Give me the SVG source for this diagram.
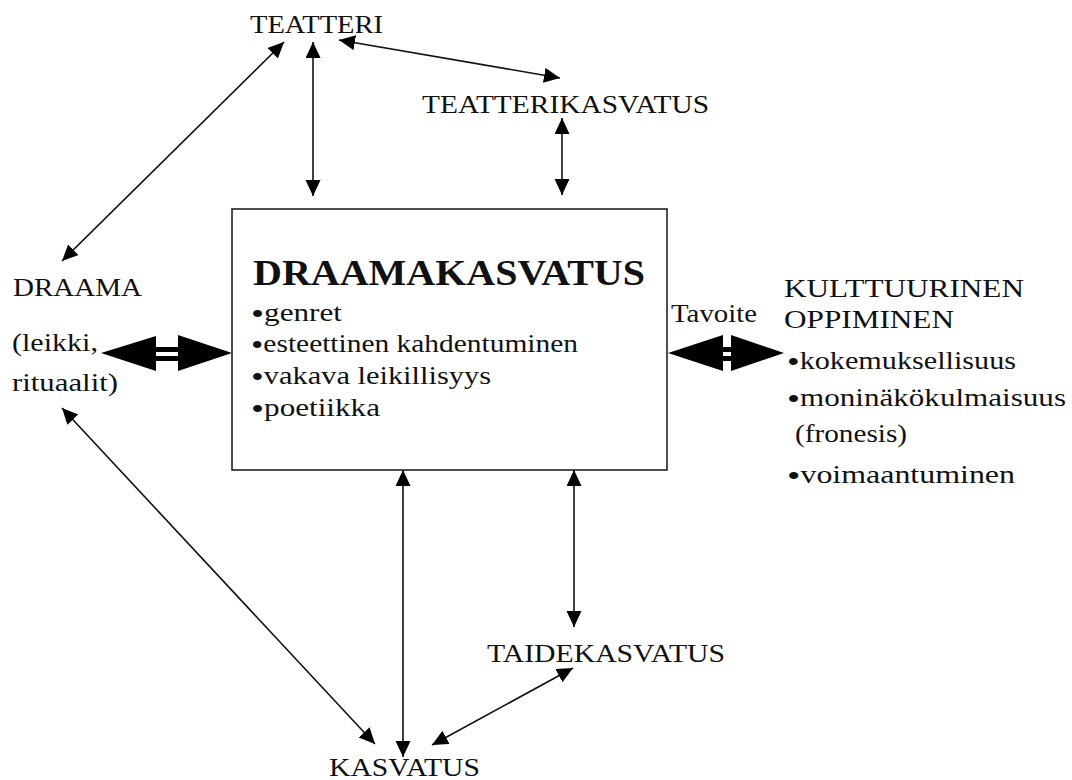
<svg xmlns="http://www.w3.org/2000/svg" width="1072" height="780" viewBox="0 0 1072 780">
<style>
text{font-family:"Liberation Serif","Times New Roman",serif;fill:#111;}
.t{font-size:26px;}
.b{font-size:25px;}
.h{font-size:35px;font-weight:bold;}
.bul{font-size:30px;}
.ln{stroke:#111;stroke-width:1.6;fill:none;marker-start:url(#ah);marker-end:url(#ah);}
.thick{fill:#000;}
</style>
<defs>
<marker id="ah" markerUnits="userSpaceOnUse" markerWidth="18" markerHeight="16" refX="16" refY="7.5" orient="auto-start-reverse">
<path d="M0,0 L16,7.5 L0,15 z" fill="#000"/>
</marker>
</defs>
<rect width="1072" height="780" fill="#fff"/>
<g id="connectors">
<line class="ln" x1="62" y1="261" x2="284" y2="42"/>
<line class="ln" x1="313" y1="42" x2="313" y2="196"/>
<line class="ln" x1="339" y1="40" x2="560" y2="78"/>
<line class="ln" x1="562" y1="118" x2="562" y2="195"/>
<line class="ln" x1="62" y1="408" x2="375" y2="744"/>
<line class="ln" x1="403" y1="470" x2="403" y2="757"/>
<line class="ln" x1="574" y1="470" x2="574" y2="627"/>
<line class="ln" x1="573" y1="668" x2="432" y2="745"/>
<g id="thick-left" class="thick">
<path d="M101,353 L156,336 L156,371 Z"/>
<path d="M232,353 L178,335 L178,371 Z"/>
<rect x="155" y="347" width="24" height="5"/>
<rect x="155" y="356" width="24" height="5"/>
</g>
<g id="thick-right" class="thick">
<path d="M668,353 L723,335 L723,371 Z"/>
<path d="M784,353 L731,335 L731,371 Z"/>
<rect x="722" y="347" width="10" height="5"/>
<rect x="722" y="356" width="10" height="5"/>
</g>
</g>
<g id="teatteri"><text class="t" x="250" y="33" textLength="133" lengthAdjust="spacingAndGlyphs">TEATTERI</text></g>
<g id="teatterikasvatus"><text class="t" x="422" y="113" textLength="287" lengthAdjust="spacingAndGlyphs">TEATTERIKASVATUS</text></g>
<g id="draamakasvatus">
<rect x="232" y="209" width="435" height="261" fill="none" stroke="#222" stroke-width="1.6"/>
<text class="h" x="253" y="285" textLength="392" lengthAdjust="spacingAndGlyphs">DRAAMAKASVATUS</text>
<text class="b" x="251" y="321" textLength="91" lengthAdjust="spacingAndGlyphs"><tspan class="bul" baseline-shift="-3">•</tspan>genret</text>
<text class="b" x="251" y="352" textLength="327" lengthAdjust="spacingAndGlyphs"><tspan class="bul" baseline-shift="-3">•</tspan>esteettinen kahdentuminen</text>
<text class="b" x="251" y="384" textLength="240" lengthAdjust="spacingAndGlyphs"><tspan class="bul" baseline-shift="-3">•</tspan>vakava leikillisyys</text>
<text class="b" x="251" y="416" textLength="129" lengthAdjust="spacingAndGlyphs"><tspan class="bul" baseline-shift="-3">•</tspan>poetiikka</text>
</g>
<g id="draama">
<text class="t" x="13" y="296" textLength="129" lengthAdjust="spacingAndGlyphs">DRAAMA</text>
<text class="t" x="12" y="351" textLength="86" lengthAdjust="spacingAndGlyphs">(leikki,</text>
<text class="t" x="12" y="391" textLength="106" lengthAdjust="spacingAndGlyphs">rituaalit)</text>
</g>
<g id="tavoite"><text class="b" x="671" y="322" textLength="86" lengthAdjust="spacingAndGlyphs">Tavoite</text></g>
<g id="kulttuurinen">
<text class="t" x="784" y="297" textLength="240" lengthAdjust="spacingAndGlyphs">KULTTUURINEN</text>
<text class="t" x="784" y="328" textLength="170" lengthAdjust="spacingAndGlyphs">OPPIMINEN</text>
<text class="b" x="787" y="369" textLength="229" lengthAdjust="spacingAndGlyphs"><tspan class="bul" baseline-shift="-3">•</tspan>kokemuksellisuus</text>
<text class="b" x="787" y="406" textLength="279" lengthAdjust="spacingAndGlyphs"><tspan class="bul" baseline-shift="-3">•</tspan>moninäkökulmaisuus</text>
<text class="b" x="795" y="442" textLength="112" lengthAdjust="spacingAndGlyphs">(fronesis)</text>
<text class="b" x="787" y="483" textLength="228" lengthAdjust="spacingAndGlyphs"><tspan class="bul" baseline-shift="-3">•</tspan>voimaantuminen</text>
</g>
<g id="taidekasvatus"><text class="t" x="487" y="662" textLength="238" lengthAdjust="spacingAndGlyphs">TAIDEKASVATUS</text></g>
<g id="kasvatus"><text class="t" x="329" y="776" textLength="151" lengthAdjust="spacingAndGlyphs">KASVATUS</text></g>
</svg>
